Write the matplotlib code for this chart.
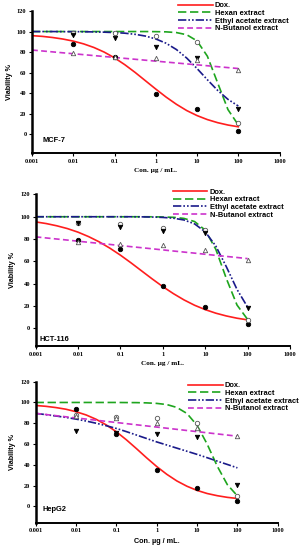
import matplotlib
matplotlib.use("Agg")
import matplotlib.pyplot as plt

# concentrations of the measured points and of the fitted curves (ug/mL)
conc = [0.01, 0.1, 1, 10, 100]
curve_conc = [0.001, 0.00178, 0.00316, 0.00562, 0.01, 0.0178, 0.0316, 0.0562,
              0.1, 0.178, 0.316, 0.562, 1, 1.78, 3.16, 5.62, 10, 17.8, 31.6, 56.2, 100]
xticks = [0.001, 0.01, 0.1, 1, 10, 100, 1000]
xticklabels = ["0.001", "0.01", "0.1", "1", "10", "100", "1000"]
series = ["Dox.", "Hexan extract", "Ethyl acetate extract", "N-Butanol extract"]
cell_lines = ["MCF-7", "HCT-116", "HepG2"]

# MCF-7
mcf7_pts_dox = [88, 75, 39, 25, 3.6]
mcf7_pts_hex = [99, 99, 96, 90, 11]
mcf7_pts_eth = [96.5, 93.5, 84.5, 74, 25]
mcf7_pts_but = [79, 75.4, 74, 72.5, 63]
mcf7_fit_dox = [96.0, 95.3, 94.2, 92.7, 90.7, 88.0, 84.5, 80.0, 74.4, 67.7, 60.2,
                52.1, 44.0, 36.2, 29.2, 23.1, 18.2, 14.3, 11.3, 9.0, 7.3]
mcf7_fit_hex = [100, 100, 100, 100, 100, 100, 100, 100, 100, 100, 100,
                100, 99.9, 99.7, 99.0, 96.9, 90.9, 76.0, 50.0, 24.0, 9.1]
mcf7_fit_eth = [100, 100, 100, 99.9, 99.9, 99.8, 99.65, 99.4, 99.0, 98.4, 97.3,
                95.6, 92.8, 88.6, 82.5, 74.2, 64.0, 53.1, 42.7, 34.0, 27.5]
mcf7_fit_but = [82, 81.1, 80.2, 79.3, 78.4, 77.5, 76.6, 75.7, 74.8, 73.9, 73,
                72.1, 71.2, 70.3, 69.4, 68.5, 67.6, 66.7, 65.8, 64.9, 64]

# HCT-116
hct_pts_dox = [79.4, 70.7, 38, 19, 3.6]
hct_pts_hex = [94, 93.4, 89.5, 88, 7.5]
hct_pts_eth = [94, 90.5, 87.5, 85, 18.5]
hct_pts_but = [77, 76, 74.6, 70, 61]
hct_fit_dox = [95.4, 93.9, 91.9, 89.4, 86.2, 82.2, 77.5, 71.9, 65.6, 58.7, 51.5,
               44.3, 37.4, 31.1, 25.5, 20.7, 16.8, 13.6, 11.1, 9.1, 7.6]
hct_fit_hex = [100, 100, 100, 100, 100, 100, 100, 100, 100, 100, 100,
               99.95, 99.8, 99.5, 98.5, 95.7, 88.0, 70.8, 44.5, 20.9, 8.0]
hct_fit_eth = [100, 100, 100, 100, 100, 100, 100, 100, 100, 100, 99.9,
               99.75, 99.4, 98.7, 97.1, 93.6, 86.5, 73.7, 55.1, 34.9, 19.0]
hct_fit_but = [82, 81.0, 80.05, 79.1, 78.1, 77.1, 76.15, 75.2, 74.2, 73.2, 72.25,
               71.3, 70.3, 69.3, 68.35, 67.4, 66.4, 65.4, 64.45, 63.5, 62.5]

# HepG2
hep_pts_dox = [93.7, 69.3, 35, 17.3, 4.8]
hep_pts_hex = [88, 85.7, 84.7, 80.5, 10]
hep_pts_eth = [72.8, 70.6, 69.6, 67, 20.9]
hep_pts_but = [87, 84.7, 80, 75, 67.4]
hep_fit_dox = [97.1, 96.3, 95.1, 93.5, 91.1, 88.0, 83.8, 78.4, 71.8, 64.0, 55.5,
               46.7, 38.3, 30.8, 24.4, 19.3, 15.3, 12.3, 10.2, 8.6, 7.5]
hep_fit_hex = [100, 100, 100, 100, 100, 100, 100, 100, 100, 99.9, 99.85,
               99.6, 99.1, 98.0, 95.2, 89.4, 78.0, 59.9, 38.7, 20.9, 10.0]
hep_fit_eth = [89.5, 88.3, 87, 85.6, 84, 82.1, 80, 77.6, 75, 71.9, 68.6,
               65.3, 62, 59, 56, 53, 50, 46.8, 43.5, 40.3, 37]
hep_fit_but = [89.5, 88.4, 87.3, 86.2, 85.1, 84, 82.9, 81.8, 80.7, 79.6, 78.5,
               77.4, 76.3, 75.2, 74.1, 73, 71.9, 70.8, 69.7, 68.6, 67.5]

panels = [
    (mcf7_pts_dox, mcf7_pts_hex, mcf7_pts_eth, mcf7_pts_but,
     mcf7_fit_dox, mcf7_fit_hex, mcf7_fit_eth, mcf7_fit_but),
    (hct_pts_dox, hct_pts_hex, hct_pts_eth, hct_pts_but,
     hct_fit_dox, hct_fit_hex, hct_fit_eth, hct_fit_but),
    (hep_pts_dox, hep_pts_hex, hep_pts_eth, hep_pts_but,
     hep_fit_dox, hep_fit_hex, hep_fit_eth, hep_fit_but),
]

# axes boxes [left, bottom, width, height] and legend anchors, figure fraction
boxes = [[0.107, 0.7213, 0.828, 0.2587],
         [0.119, 0.3705, 0.851, 0.2760],
         [0.119, 0.0493, 0.810, 0.2567]]
ylims = [(-18.5, 120), (-16, 120), (-16, 120)]
legend_pos = [(0.583, 1.003), (0.566, 0.664), (0.617, 0.312)]
label_pos = [(0.044, 0.093), (0.014, 0.047), (0.03, 0.098)]

line_colors = ["#ff1e1e", "#1ea51e", "#1a1a8a", "#cc33cc"]
line_styles = ["-", (0, (5, 2.2)), (0, (5, 1.2, 1, 1.2, 1, 1.2)), (0, (3.5, 2))]
markers = ["o", "o", "v", "^"]
marker_faces = ["black", "white", "black", "white"]
marker_edges = ["black", "#555555", "black", "#555555"]

serif = "Liberation Serif"
sans = "Liberation Sans"

fig = plt.figure(figsize=(2.99, 5.5), dpi=100)

for i, data in enumerate(panels):
    ax = fig.add_axes(boxes[i])
    pts = data[:4]
    fits = data[4:]
    handles = []
    for k in range(4):
        h, = ax.plot(curve_conc, fits[k], color=line_colors[k], ls=line_styles[k],
                     lw=1.2, label=series[k], zorder=2)
        handles.append(h)
        ax.plot(conc, pts[k], ls="none", marker=markers[k], ms=3.2,
                mfc=marker_faces[k], mec=marker_edges[k], mew=0.6, zorder=3)
    ax.set_xscale("log")
    ax.set_xlim(0.001, 1000)
    ax.set_ylim(*ylims[i])
    ax.set_xticks(xticks)
    ax.set_xticklabels(xticklabels)
    ax.minorticks_off()
    ax.set_yticks([0, 20, 40, 60, 80, 100, 120])
    for lab in ax.get_xticklabels() + ax.get_yticklabels():
        lab.set_fontfamily(serif)
        lab.set_fontweight("bold")
        lab.set_fontsize(4.6)
    ax.tick_params(length=2, width=0.8, pad=2)
    ax.spines["top"].set_visible(False)
    ax.spines["right"].set_visible(False)
    ax.spines["left"].set_linewidth(1.8)
    ax.spines["bottom"].set_linewidth(1.4)
    ax.set_ylabel("Viability %", fontfamily=sans, fontweight="bold", fontsize=5.2, labelpad=3)
    xfont = sans if i == 2 else serif
    ax.set_xlabel("Con. µg / mL.", fontfamily=xfont, fontweight="bold", fontsize=5.2, labelpad=3)
    ax.text(label_pos[i][0], label_pos[i][1], cell_lines[i], transform=ax.transAxes,
            va="center", fontfamily=sans, fontweight="bold", fontsize=5.4)
    ax.legend(handles=handles, loc="upper left", bbox_to_anchor=legend_pos[i],
              bbox_transform=fig.transFigure, frameon=False,
              prop={"family": sans, "weight": "bold", "size": 5.4},
              handlelength=4.6, handletextpad=0.3, labelspacing=0.05, borderpad=0)

fig.savefig("out.png", dpi=100)
